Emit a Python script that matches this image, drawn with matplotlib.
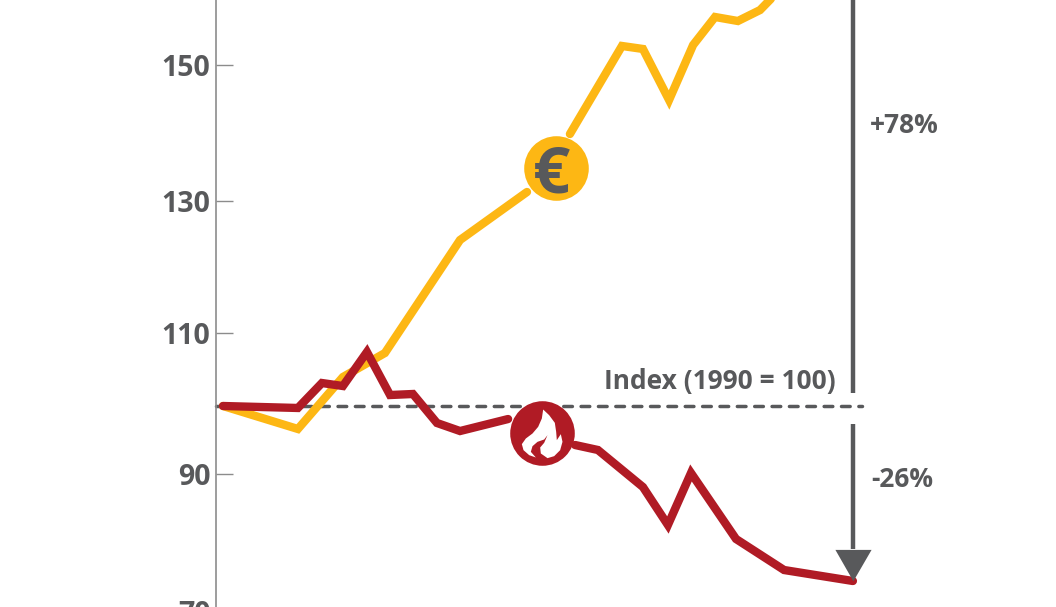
import numpy as np
import matplotlib
matplotlib.use("Agg")
import matplotlib.pyplot as plt
from matplotlib.path import Path

OUTPUT_PLOT = "out.png"

# x is years after 1990; nan breaks the line around an icon
gdp_x = [0, 3.21, 5.14, 6.94, 10.16, 13.03, np.nan, 14.87, 17.10, 18.00, 19.12, 20.15, 21.09, 22.07, 23.02, 24.0]
gdp_y = [100, 96.63, 104.25, 107.77, 124.34, 131.38, np.nan, 139.88, 152.79, 152.35, 144.87, 152.93, 157.04, 156.45, 158.06, 161.5]

ghg_x = [0, 3.21, 4.24, 5.14, 6.17, 7.16, 8.14, 9.17, 10.16, 12.22, np.nan, 15.09, 16.07, 18.0, 19.07, 20.06, 21.99, 24.05, 27.0]
ghg_y = [100, 99.71, 103.37, 102.93, 107.92, 101.61, 101.76, 97.51, 96.33, 98.09, np.nan, 94.28, 93.55, 88.12, 82.55, 90.18, 80.5, 75.95, 74.34]

tick_values = [70, 90, 110.7, 130, 150]
tick_labels = ["70", "90", "110", "130", "150"]

YELLOW = "#FDB714"
RED = "#B01B25"
GRAY = "#58595B"
AXIS_GRAY = "#8C8C8C"
FONT = "Open Sans"

# flame outline traced around the icon centre, y up
FLAME = [
    (2, 72), (20, 55), (37, 32), (41, 5), (43, -20), (55, -2), (60, -25), (53, -50), (35, -68),
    (15, -74), (-5, -60), (-7, -42), (5, -28), (15, -5), (5, -18), (-15, -25), (-30, -38),
    (-35, -55), (-20, -72), (-40, -65), (-57, -50), (-62, -32), (-50, -15), (-30, 0),
    (-13, 20), (-2, 45), (2, 72),
]


def plot_chart():
    fig = plt.figure(figsize=(10.56, 6.07), dpi=100)
    # axes run a little below the figure so the 70 tick is cut off by the edge
    ax = fig.add_axes([0, -13 / 607, 1, 620 / 607])
    ax.set_xlim(-223 / 23.33, (1056 - 223) / 23.33)
    ax.set_ylim(100 - 214 / 6.82, 100 + 406 / 6.82)

    for side in ["top", "right", "bottom"]:
        ax.spines[side].set_visible(False)
    ax.spines["left"].set_position(("data", -0.3))
    ax.spines["left"].set_color(AXIS_GRAY)
    ax.spines["left"].set_linewidth(1.2)
    ax.set_xticks([])
    ax.set_yticks(tick_values)
    ax.set_yticklabels(tick_labels, fontname=FONT, fontweight="bold", fontsize=20.5, color=GRAY)
    ax.tick_params(axis="y", direction="in", length=12.5, width=1, color=AXIS_GRAY, pad=4)

    ax.plot([-0.3, 27.4], [100, 100], color=GRAY, lw=2.5, dashes=(2.5, 2.5), dash_capstyle="round", zorder=2)

    ax.plot(gdp_x, gdp_y, color=YELLOW, lw=6, solid_capstyle="round", solid_joinstyle="miter", zorder=3)
    ax.plot(ghg_x, ghg_y, color=RED, lw=6, solid_capstyle="round", solid_joinstyle="miter", zorder=4)

    # +78% / -26% arrow
    ax.plot([27.02, 27.02], [178, 101.9], color=GRAY, lw=3.2, solid_capstyle="butt", zorder=5)
    ax.plot([27.02, 27.02], [97.4, 79], color=GRAY, lw=3.2, solid_capstyle="butt", zorder=5)
    ax.fill([26.25, 27.8, 27.02], [78.9, 78.9, 74.3], color=GRAY, lw=0, zorder=6)
    ax.text(29.2, 141.1, "+78%", fontname=FONT, fontweight="bold", fontsize=19, color=GRAY, ha="center", va="center")
    ax.text(29.1, 89.2, "-26%", fontname=FONT, fontweight="bold", fontsize=19, color=GRAY, ha="center", va="center")
    ax.text(21.3, 103.55, "Index (1990 = 100)", fontname=FONT, fontweight="bold", fontsize=19, color=GRAY,
            ha="center", va="center")

    # icons sitting in the gaps of the two lines
    ax.scatter([14.27], [134.9], s=46.5 ** 2, color=YELLOW, lw=0, zorder=7)
    ax.text(14.1, 134.9, "€", fontname=FONT, fontweight="bold", fontsize=47, color=GRAY,
            ha="center", va="center_baseline", zorder=8)
    ax.scatter([13.66], [96.04], s=46.5 ** 2, color=RED, lw=0, zorder=7)
    flame = Path(FLAME, closed=True)
    ax.plot([13.66], [96.04], marker=flame, ms=35.5, mfc="white", mew=0, zorder=8)

    plt.savefig(OUTPUT_PLOT, dpi=100)


if __name__ == "__main__":
    plot_chart()
